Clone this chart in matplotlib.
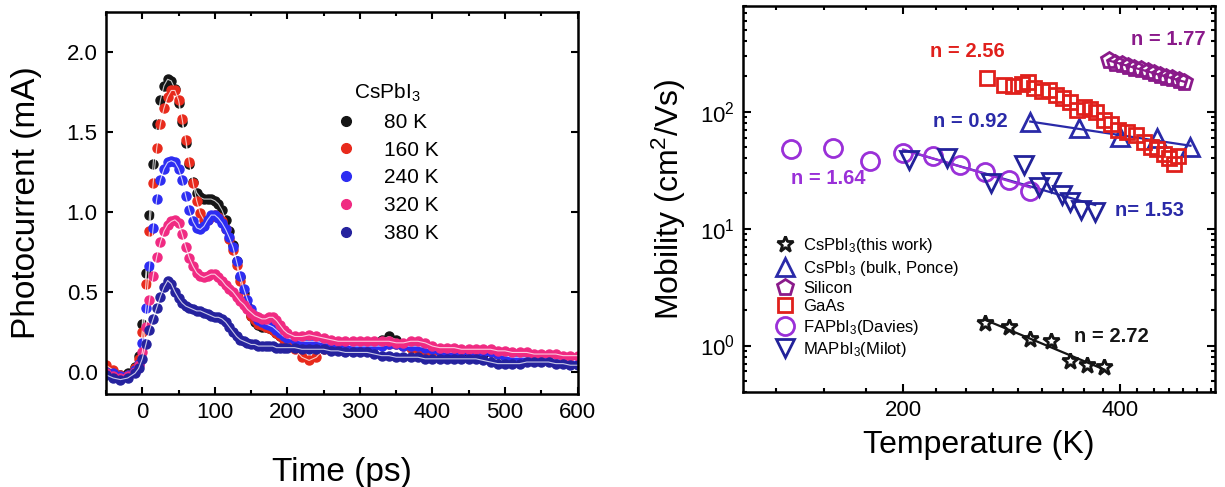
import numpy as np
import matplotlib
matplotlib.use("Agg")
import matplotlib.pyplot as plt
from matplotlib.ticker import FixedLocator, MultipleLocator, LogLocator, NullFormatter
from matplotlib.lines import Line2D

plt.rcParams['font.family'] = ['Liberation Sans', 'DejaVu Sans']
plt.rcParams['mathtext.fontset'] = 'custom'
plt.rcParams['mathtext.rm'] = 'Liberation Sans'
plt.rcParams['mathtext.it'] = 'Liberation Sans:italic'
plt.rcParams['mathtext.bf'] = 'Liberation Sans:bold'

# === left panel: photocurrent transients ===
t_ps = [-50, -40, -30, -20, -10, -5,
        0, 5, 10, 15, 20, 25, 30, 35, 40, 45, 50, 55, 60, 65, 70, 75, 80, 85, 90, 95,
        100, 105, 110, 115, 120, 125, 130, 135, 140, 145, 150, 155, 160, 165, 170, 175,
        180, 185, 190, 195, 200,
        210, 220, 230, 240, 250, 260, 270, 280, 290, 300, 310, 320, 330, 340, 350, 360,
        370, 380, 390, 400, 410, 420, 430, 440, 450, 460, 470, 480, 490, 500, 510, 520,
        530, 540, 550, 560, 570, 580, 590, 600]

pc_80K = [0.02, 0.0, -0.02, -0.01, 0.03, 0.10,
          0.30, 0.62, 0.98, 1.30, 1.55, 1.70, 1.79, 1.83, 1.82, 1.77, 1.68, 1.56, 1.43, 1.30,
          1.19, 1.12, 1.09, 1.08, 1.08, 1.08, 1.07, 1.05, 1.01, 0.95, 0.88, 0.79, 0.69, 0.59,
          0.49, 0.41, 0.35, 0.31, 0.29, 0.28, 0.28, 0.27, 0.26, 0.24, 0.22, 0.21, 0.20,
          0.20, 0.19, 0.18, 0.18, 0.18, 0.17, 0.17, 0.17, 0.17, 0.17, 0.17, 0.18, 0.20, 0.22,
          0.20, 0.17, 0.16, 0.15, 0.15, 0.14, 0.13, 0.12, 0.12, 0.12, 0.12, 0.11, 0.11, 0.12,
          0.11, 0.10, 0.10, 0.09, 0.08, 0.09, 0.09, 0.09, 0.08, 0.08, 0.07, 0.07]
pc_160K = [0.04, 0.01, -0.02, -0.02, 0.02, 0.08,
           0.25, 0.55, 0.88, 1.18, 1.40, 1.55, 1.65, 1.72, 1.76, 1.76, 1.70, 1.58, 1.45, 1.31,
           1.18, 1.07, 0.99, 0.95, 0.95, 0.97, 0.98, 0.97, 0.94, 0.89, 0.83, 0.76, 0.67, 0.57,
           0.47, 0.40, 0.35, 0.32, 0.30, 0.29, 0.28, 0.27, 0.26, 0.24, 0.22, 0.20, 0.18,
           0.14, 0.09, 0.07, 0.09, 0.14, 0.17, 0.17, 0.17, 0.16, 0.16, 0.16, 0.16, 0.17, 0.17,
           0.17, 0.16, 0.15, 0.14, 0.13, 0.13, 0.12, 0.12, 0.12, 0.13, 0.13, 0.12, 0.12, 0.12,
           0.11, 0.11, 0.10, 0.10, 0.10, 0.10, 0.09, 0.09, 0.09, 0.08, 0.08, 0.08]
pc_240K = [0.0, -0.01, -0.03, -0.02, 0.01, 0.05,
           0.18, 0.40, 0.66, 0.90, 1.08, 1.20, 1.27, 1.31, 1.32, 1.31, 1.27, 1.20, 1.10, 1.01,
           0.94, 0.90, 0.89, 0.91, 0.95, 0.98, 0.98, 0.96, 0.93, 0.89, 0.84, 0.78, 0.69, 0.60,
           0.52, 0.45, 0.39, 0.35, 0.32, 0.31, 0.30, 0.29, 0.28, 0.26, 0.24, 0.22, 0.21,
           0.20, 0.19, 0.19, 0.19, 0.18, 0.18, 0.17, 0.17, 0.16, 0.16, 0.16, 0.16, 0.16, 0.17,
           0.17, 0.16, 0.16, 0.16, 0.15, 0.14, 0.13, 0.12, 0.12, 0.13, 0.13, 0.13, 0.12, 0.12,
           0.11, 0.10, 0.09, 0.09, 0.09, 0.10, 0.10, 0.09, 0.08, 0.08, 0.07, 0.07]
pc_320K = [-0.01, -0.03, -0.04, -0.03, 0.0, 0.04,
           0.12, 0.28, 0.45, 0.60, 0.72, 0.81, 0.88, 0.92, 0.94, 0.95, 0.93, 0.86, 0.78, 0.71,
           0.66, 0.62, 0.60, 0.59, 0.60, 0.61, 0.61, 0.59, 0.57, 0.54, 0.52, 0.50, 0.47, 0.44,
           0.42, 0.39, 0.37, 0.35, 0.34, 0.33, 0.33, 0.34, 0.34, 0.32, 0.29, 0.26, 0.24,
           0.22, 0.22, 0.23, 0.22, 0.21, 0.20, 0.19, 0.19, 0.19, 0.19, 0.19, 0.19, 0.19, 0.19,
           0.18, 0.18, 0.19, 0.19, 0.18, 0.16, 0.15, 0.15, 0.15, 0.14, 0.14, 0.14, 0.14, 0.14,
           0.13, 0.13, 0.12, 0.12, 0.12, 0.11, 0.11, 0.11, 0.11, 0.10, 0.10, 0.10]
pc_380K = [-0.02, -0.04, -0.05, -0.04, -0.01, 0.02,
           0.08, 0.17, 0.26, 0.33, 0.40, 0.47, 0.53, 0.57, 0.55, 0.50, 0.46, 0.43, 0.41, 0.40,
           0.39, 0.38, 0.38, 0.37, 0.36, 0.35, 0.34, 0.34, 0.33, 0.31, 0.28, 0.25, 0.22, 0.20,
           0.19, 0.18, 0.17, 0.17, 0.16, 0.16, 0.16, 0.16, 0.16, 0.15, 0.15, 0.15, 0.15,
           0.15, 0.14, 0.14, 0.14, 0.14, 0.13, 0.13, 0.12, 0.12, 0.12, 0.12, 0.11, 0.10, 0.10,
           0.09, 0.09, 0.09, 0.09, 0.08, 0.08, 0.08, 0.08, 0.08, 0.08, 0.08, 0.08, 0.07, 0.06,
           0.05, 0.05, 0.05, 0.05, 0.06, 0.06, 0.06, 0.06, 0.05, 0.05, 0.04, 0.04]

temp_labels = ['80 K', '160 K', '240 K', '320 K', '380 K']
temp_colors = ['#151515', '#e82a1c', '#2d2df2', '#f02a82', '#25229e']

# === right panel: mobility vs temperature ===
T_this = [260, 280, 300, 320, 340, 360, 380]
mu_this = [1.56, 1.44, 1.14, 1.10, 0.74, 0.68, 0.65]

T_ponce = [300, 350, 400, 450, 500]
mu_ponce = [82, 72, 61, 59, 50]

T_si = [385, 393, 402, 410, 418, 427, 436, 445, 454, 463, 472, 482, 490]
mu_si = [275, 262, 255, 245, 238, 230, 222, 213, 205, 198, 193, 186, 180]

T_gaas = [261, 276, 284, 292, 298, 304, 311, 318, 326, 333, 341, 348, 356, 363, 370,
          379, 388, 397, 408, 420, 431, 441, 450, 459, 467, 474, 480]
mu_gaas = [193, 170, 165, 172, 178, 158, 150, 152, 139, 130, 120, 103, 110, 105, 100,
           85, 78, 70, 67, 63, 55, 50, 48, 43, 40, 36, 42]

T_fa = [140, 160, 180, 200, 220, 240, 260, 280, 300]
mu_fa = [48, 48.5, 38, 44, 42, 35, 30.5, 26, 21]

T_ma = [204, 230, 265, 294, 308, 320, 332, 340, 353, 369]
mu_ma = [38.5, 40, 24.3, 35, 22.8, 25, 19.3, 16.9, 14.4, 13.9]

fig = plt.figure(figsize=(12.25, 4.87), dpi=100)

# ---------------- left ----------------
ax1 = fig.add_axes([0.0865, 0.191, 0.385, 0.784])
series = [pc_80K, pc_160K, pc_240K, pc_320K, pc_380K]
for vals, col in zip(series, temp_colors):
    ax1.plot(t_ps, vals, 'o', ms=6.5, color=col, mec=col, zorder=2)
    ax1.plot(t_ps, vals, '-', lw=0.8, color='white', alpha=0.75, zorder=2)

ax1.set_xlim(-50, 600)
ax1.set_ylim(-0.14, 2.25)
ax1.xaxis.set_major_locator(MultipleLocator(100))
ax1.xaxis.set_minor_locator(MultipleLocator(50))
ax1.yaxis.set_major_locator(FixedLocator([0, 0.5, 1.0, 1.5, 2.0]))
ax1.yaxis.set_major_formatter(plt.FuncFormatter(lambda v, p: f'{v:.1f}'))
ax1.tick_params(which='both', direction='in', top=True, right=True, width=1.5)
ax1.tick_params(which='major', length=5, labelsize=16, pad=6)
ax1.tick_params(which='minor', length=3)
for s in ax1.spines.values():
    s.set_linewidth(1.8)
ax1.set_xlabel('Time (ps)', fontsize=24, labelpad=24)
ax1.set_ylabel('Photocurrent (mA)', fontsize=24, labelpad=18)

handles = [Line2D([], [], ls='none', marker='o', ms=7, color=c) for c in temp_colors]
leg1 = ax1.legend(handles, temp_labels, title='CsPbI$_3$', loc='upper left',
                  bbox_to_anchor=(0.465, 0.845), frameon=False, fontsize=15,
                  title_fontsize=15, labelspacing=0.42, handletextpad=1.3,
                  handlelength=1.0, borderpad=0)

# ---------------- right ----------------
ax2 = fig.add_axes([0.6065, 0.195, 0.385, 0.7926])
ax2.set_xscale('log')
ax2.set_yscale('log')

def fit_line(T, mu, color, lo=None):
    T = np.asarray(T, float)
    mu = np.asarray(mu, float)
    if lo is not None:
        m = T >= lo
        T, mu = T[m], mu[m]
    k, b = np.polyfit(np.log10(T), np.log10(mu), 1)
    tt = np.array([T.min(), T.max()])
    ax2.plot(tt, 10 ** (k * np.log10(tt) + b), '-', color=color, lw=1.6, zorder=1)

fit_line(T_ma, mu_ma, '#2a2aa8')
fit_line(T_fa, mu_fa, '#9a30d8', lo=200)
fit_line(T_ponce, mu_ponce, '#2a2aa8')
fit_line(T_this, mu_this, '#151515')
fit_line(T_si, mu_si, '#8a1a8a')

mk = dict(ls='none', mfc='none', mew=2.0)
ax2.plot(T_this, mu_this, marker='*', ms=12, color='#151515', label='CsPbI$_3$(this work)', **mk)
ax2.plot(T_ponce, mu_ponce, marker='^', ms=13, color='#2a2aa8', label='CsPbI$_3$ (bulk, Ponce)', **mk)
ax2.plot(T_si, mu_si, marker='p', ms=12, color='#8a1a8a', label='Silicon', **mk)
ax2.plot(T_gaas, mu_gaas, marker='s', ms=10, color='#e0201c', label='GaAs', **mk)
ax2.plot(T_fa, mu_fa, marker='o', ms=13, color='#9a30d8', label='FAPbI$_3$(Davies)', **mk)
ax2.plot(T_ma, mu_ma, marker='v', ms=13, color='#22229a', label='MAPbI$_3$(Milot)', **mk)

ax2.set_xlim(120, 540)
ax2.set_ylim(0.4, 800)
ax2.xaxis.set_major_locator(FixedLocator([200, 400]))
ax2.xaxis.set_major_formatter(plt.FuncFormatter(lambda v, p: f'{v:.0f}'))
ax2.xaxis.set_minor_locator(FixedLocator([200 + k * 200 / 9 for k in range(-3, 16)]))
ax2.xaxis.set_minor_formatter(NullFormatter())
ax2.yaxis.set_major_locator(LogLocator(base=10))
ax2.yaxis.set_minor_locator(LogLocator(base=10, subs=np.arange(2, 10)))
ax2.yaxis.set_minor_formatter(NullFormatter())
ax2.tick_params(which='both', direction='in', top=True, right=True, width=1.5)
ax2.tick_params(which='major', length=6, labelsize=16, pad=6)
ax2.tick_params(which='minor', length=3)
for s in ax2.spines.values():
    s.set_linewidth(1.8)
ax2.set_xlabel('Temperature (K)', fontsize=23, labelpad=6)
ax2.set_ylabel('Mobility (cm$^2$/Vs)', fontsize=23, labelpad=8)

nfs = 14.5
ax2.text(218, 295, 'n = 2.56', color='#e0201c', fontsize=nfs, fontweight='bold')
ax2.text(413, 370, 'n = 1.77', color='#8a1a8a', fontsize=nfs, fontweight='bold')
ax2.text(220, 74, 'n = 0.92', color='#2a2aa8', fontsize=nfs, fontweight='bold')
ax2.text(140, 24, 'n = 1.64', color='#9a30d8', fontsize=nfs, fontweight='bold')
ax2.text(393, 12.7, 'n= 1.53', color='#2a2aa8', fontsize=nfs, fontweight='bold')
ax2.text(345, 1.08, 'n = 2.72', color='#151515', fontsize=nfs, fontweight='bold')

ax2.legend(loc='upper left', bbox_to_anchor=(0.05, 0.425), frameon=False, fontsize=12,
           labelspacing=0.2, handletextpad=0.5, handlelength=1.2, borderpad=0,
           markerscale=1.0)

fig.savefig('out.png', dpi=100)
